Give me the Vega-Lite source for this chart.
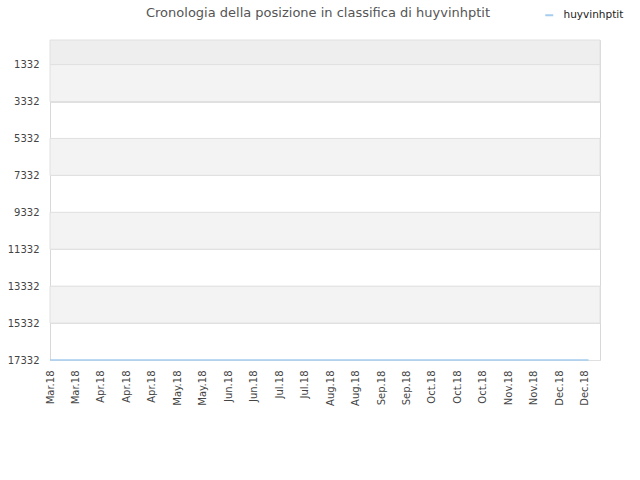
{
  "$schema": "https://vega.github.io/schema/vega-lite/v6.json",
  "width": 550,
  "height": 320,
  "autosize": "none",
  "padding": {"left": 50, "top": 40, "right": 40, "bottom": 120},
  "title": {
    "text": "Cronologia della posizione in classifica di huyvinhptit",
    "font": "DejaVu Sans",
    "fontSize": 13,
    "fontWeight": "normal",
    "color": "#555555",
    "anchor": "middle",
    "dx": -7,
    "offset": -10
  },
  "datasets": {
    "bands": [
      {"y0": 1, "y1": 1332, "kind": "top"},
      {"y0": 1332, "y1": 3332, "kind": "band"},
      {"y0": 5332, "y1": 7332, "kind": "band"},
      {"y0": 9332, "y1": 11332, "kind": "band"},
      {"y0": 13332, "y1": 15332, "kind": "band"}
    ],
    "ranks": [
      {"i": 0, "rank": 17332, "user": "huyvinhptit"},
      {"i": 1, "rank": 17332, "user": "huyvinhptit"},
      {"i": 2, "rank": 17332, "user": "huyvinhptit"},
      {"i": 3, "rank": 17332, "user": "huyvinhptit"},
      {"i": 4, "rank": 17332, "user": "huyvinhptit"},
      {"i": 5, "rank": 17332, "user": "huyvinhptit"},
      {"i": 6, "rank": 17332, "user": "huyvinhptit"},
      {"i": 7, "rank": 17332, "user": "huyvinhptit"},
      {"i": 8, "rank": 17332, "user": "huyvinhptit"},
      {"i": 9, "rank": 17332, "user": "huyvinhptit"},
      {"i": 10, "rank": 17332, "user": "huyvinhptit"},
      {"i": 11, "rank": 17332, "user": "huyvinhptit"},
      {"i": 12, "rank": 17332, "user": "huyvinhptit"},
      {"i": 13, "rank": 17332, "user": "huyvinhptit"},
      {"i": 14, "rank": 17332, "user": "huyvinhptit"},
      {"i": 15, "rank": 17332, "user": "huyvinhptit"},
      {"i": 16, "rank": 17332, "user": "huyvinhptit"},
      {"i": 17, "rank": 17332, "user": "huyvinhptit"},
      {"i": 18, "rank": 17332, "user": "huyvinhptit"},
      {"i": 19, "rank": 17332, "user": "huyvinhptit"},
      {"i": 20, "rank": 17332, "user": "huyvinhptit"},
      {"i": 21, "rank": 17332, "user": "huyvinhptit"},
      {"i": 21.15, "rank": 17332, "user": "huyvinhptit"}
    ]
  },
  "layer": [
    {
      "data": {"name": "bands"},
      "mark": {"type": "rect", "stroke": "#e0e0e0", "strokeWidth": 1},
      "encoding": {
        "x": {"value": 0},
        "x2": {"value": "width"},
        "y": {
          "field": "y0",
          "type": "quantitative",
          "scale": {"domain": [1, 17332], "reverse": true, "nice": false, "zero": false},
          "axis": {
            "title": null,
            "values": [1332, 3332, 5332, 7332, 9332, 11332, 13332, 15332, 17332],
            "format": "d",
            "labelFont": "DejaVu Sans",
            "labelFontSize": 10,
            "labelColor": "#444444",
            "labelPadding": 11,
            "ticks": false,
            "domain": false,
            "grid": true,
            "gridColor": "#e0e0e0",
            "labelOverlap": false,
            "labelFlush": false
          }
        },
        "y2": {"field": "y1"},
        "fill": {
          "field": "kind",
          "type": "nominal",
          "scale": {"domain": ["top", "band"], "range": ["#eeeeee", "#f3f3f3"]},
          "legend": null
        }
      }
    },
    {
      "data": {"name": "ranks"},
      "mark": {"type": "line", "strokeWidth": 1.5, "clip": false},
      "encoding": {
        "x": {
          "field": "i",
          "type": "quantitative",
          "scale": {"domain": [0, 21.6], "nice": false, "zero": false},
          "axis": {
            "title": null,
            "values": [0,1,2,3,4,5,6,7,8,9,10,11,12,13,14,15,16,17,18,19,20,21],
            "labelExpr": "['Mar.18','Mar.18','Apr.18','Apr.18','Apr.18','May.18','May.18','Jun.18','Jun.18','Jul.18','Jul.18','Aug.18','Aug.18','Sep.18','Sep.18','Oct.18','Oct.18','Oct.18','Nov.18','Nov.18','Dec.18','Dec.18'][datum.value]",
            "labelAngle": -90,
            "labelAlign": "right",
            "labelBaseline": "middle",
            "labelFont": "DejaVu Sans",
            "labelFontSize": 10,
            "labelColor": "#444444",
            "labelPadding": 10,
            "ticks": false,
            "domain": false,
            "grid": false,
            "labelOverlap": false,
            "labelBound": false,
            "labelFlush": false
          }
        },
        "y": {
          "field": "rank",
          "type": "quantitative",
          "scale": {"domain": [1, 17332], "reverse": true, "nice": false, "zero": false},
          "axis": {
            "title": null,
            "values": [1332, 3332, 5332, 7332, 9332, 11332, 13332, 15332, 17332],
            "format": "d",
            "labelFont": "DejaVu Sans",
            "labelFontSize": 10,
            "labelColor": "#444444",
            "labelPadding": 11,
            "ticks": false,
            "domain": false,
            "grid": true,
            "gridColor": "#e0e0e0",
            "labelOverlap": false,
            "labelFlush": false
          }
        },
        "color": {
          "field": "user",
          "type": "nominal",
          "scale": {"range": ["#a6cdf0"]},
          "legend": {
            "title": null,
            "orient": "none",
            "legendX": 494,
            "legendY": -30,
            "symbolType": "stroke",
            "symbolSize": 64,
            "symbolStrokeWidth": 2,
            "labelOffset": 9,
            "labelFont": "DejaVu Sans",
            "labelFontSize": 10.5,
            "labelColor": "#222222"
          }
        }
      }
    }
  ],
  "config": {
    "view": {"stroke": "#d8d8d8", "strokeWidth": 1},
    "background": "white"
  }
}
